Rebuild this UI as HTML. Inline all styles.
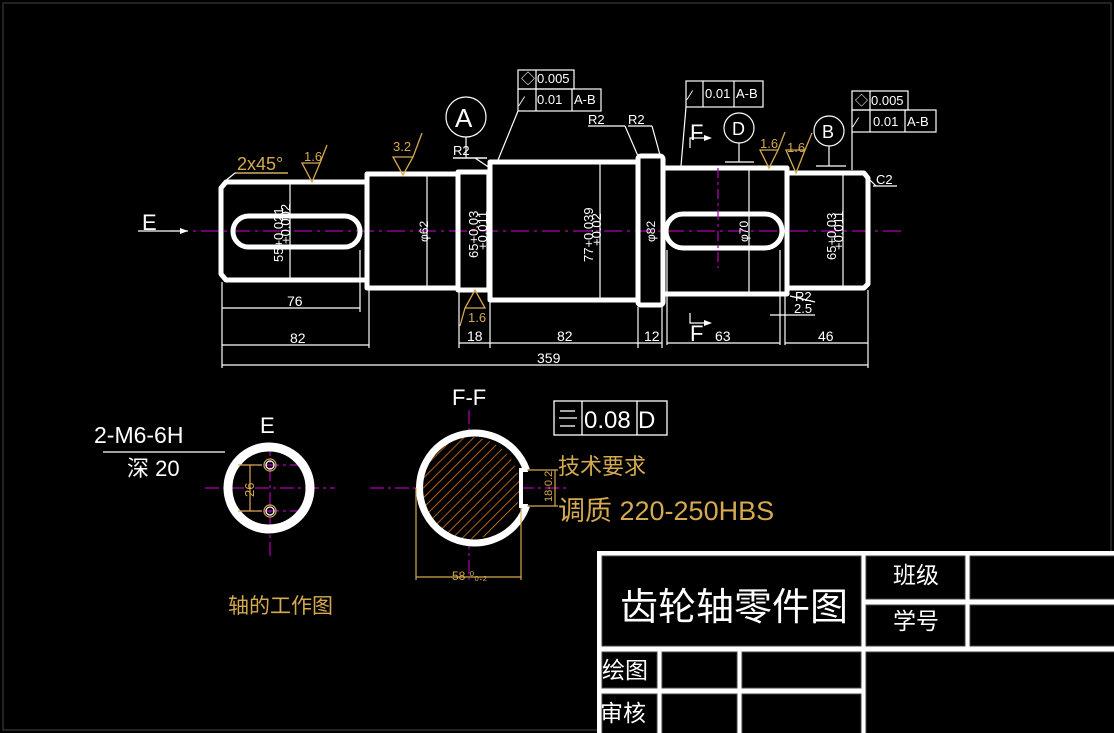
<!DOCTYPE html>
<html><head><meta charset="utf-8"><style>
html,body{margin:0;padding:0;background:#000;}
svg{display:block;}
text{font-family:"Liberation Sans","Noto Sans CJK SC",sans-serif;}
</style></head><body>
<svg width="1114" height="733" viewBox="0 0 1114 733" xmlns="http://www.w3.org/2000/svg">
<defs>
<pattern id="hatch" patternUnits="userSpaceOnUse" width="7" height="7" patternTransform="rotate(45)">
<rect width="7" height="7" fill="#000"/><line x1="0" y1="0" x2="0" y2="7" stroke="#e07a10" stroke-width="1.6"/>
</pattern>
<clipPath id="fclip"><circle cx="469" cy="488" r="51"/></clipPath>
</defs>
<rect x="0" y="0" width="1114" height="733" fill="#000"/>
<rect x="3" y="3" width="1108" height="727" fill="none" stroke="#444" stroke-width="1"/>

<!-- centerline -->
<line x1="170" y1="231" x2="905" y2="231" stroke="#b000b0" stroke-width="1.3" stroke-dasharray="18,5,3,5"/>

<!-- shaft body -->
<g fill="none" stroke="#fff" stroke-width="5" stroke-linejoin="round">
<path d="M226 182 L367 182 L367 280 L226 280 L221 274 L221 188 Z"/>
<rect x="367" y="174" width="91" height="114"/>
<rect x="458" y="172" width="32" height="118"/>
<rect x="490" y="162" width="148" height="138"/>
<rect x="638" y="156" width="25" height="149" rx="3"/>
<rect x="663" y="168" width="124" height="126"/>
<path d="M787 173 L864 173 L868 178 L868 284 L864 288 L787 288 Z"/>
<rect x="233" y="216" width="127" height="31" rx="15.5"/>
<rect x="666" y="214" width="116" height="34" rx="17"/>
</g>
<g stroke="#fff" stroke-width="1.2" fill="none">
<line x1="290" y1="184" x2="290" y2="278"/>
<line x1="427" y1="176" x2="427" y2="286"/>
<line x1="487" y1="174" x2="487" y2="288"/>
<line x1="600" y1="164" x2="600" y2="298"/>
<line x1="749" y1="170" x2="749" y2="292"/>
<line x1="843" y1="175" x2="843" y2="286"/>
<!-- extension lines -->
<line x1="222" y1="282" x2="222" y2="368"/>
<line x1="360" y1="250" x2="360" y2="312"/>
<line x1="369" y1="290" x2="369" y2="348"/>
<line x1="459" y1="292" x2="459" y2="348"/>
<line x1="490" y1="302" x2="490" y2="348"/>
<line x1="638" y1="307" x2="638" y2="348"/>
<line x1="662" y1="307" x2="662" y2="348"/>
<line x1="667" y1="250" x2="667" y2="345"/>
<line x1="780" y1="250" x2="780" y2="345"/>
<line x1="785" y1="296" x2="785" y2="345"/>
<line x1="868" y1="290" x2="868" y2="368"/>
<!-- dims -->
<line x1="222" y1="308" x2="360" y2="308"/>
<line x1="222" y1="345" x2="369" y2="345"/>
<line x1="222" y1="365" x2="868" y2="365"/>
<line x1="459" y1="343" x2="490" y2="343"/>
<line x1="490" y1="343" x2="638" y2="343"/>
<line x1="638" y1="343" x2="662" y2="343"/>
<line x1="667" y1="343" x2="780" y2="343"/>
<line x1="785" y1="343" x2="868" y2="343"/>
<line x1="770" y1="315" x2="815" y2="315"/>
<!-- E arrow -->
<line x1="138" y1="231" x2="188" y2="231"/>
<!-- A/D/B datum -->
<circle cx="466" cy="117" r="20"/>
<line x1="466" y1="137" x2="466" y2="158"/>
<line x1="453" y1="158" x2="487" y2="158"/>
<circle cx="739" cy="128" r="15"/>
<line x1="739" y1="143" x2="739" y2="162"/>
<line x1="725" y1="162" x2="754" y2="162"/>
<circle cx="829" cy="131" r="15"/>
<line x1="829" y1="146" x2="829" y2="166"/>
<line x1="816" y1="166" x2="846" y2="166"/>
<!-- tolerance frame 1 -->
<rect x="518" y="70" width="56" height="19"/>
<rect x="518" y="89" width="83" height="22"/>
<line x1="536" y1="70" x2="536" y2="111"/>
<line x1="572" y1="89" x2="572" y2="111"/>
<line x1="518" y1="111" x2="498" y2="160"/>
<!-- frame 2 -->
<rect x="686" y="81" width="77" height="26"/>
<line x1="703" y1="81" x2="703" y2="107"/>
<line x1="734" y1="81" x2="734" y2="107"/>
<line x1="686" y1="107" x2="681" y2="166"/>
<!-- frame 3 -->
<rect x="852" y="91" width="56" height="19"/>
<rect x="852" y="110" width="84" height="22"/>
<line x1="870" y1="91" x2="870" y2="132"/>
<line x1="905" y1="110" x2="905" y2="132"/>
<line x1="852" y1="132" x2="852" y2="170"/>
<!-- R2 leaders -->
<line x1="453" y1="158" x2="487" y2="158"/>
<line x1="475" y1="158" x2="490" y2="168"/>
<line x1="588" y1="126" x2="625" y2="126"/>
<line x1="625" y1="126" x2="638" y2="156"/>
<line x1="628" y1="126" x2="652" y2="126"/>
<line x1="652" y1="126" x2="660" y2="155"/>
<line x1="235" y1="173" x2="288" y2="173"/>
<line x1="235" y1="173" x2="224" y2="182"/>
<line x1="873" y1="186" x2="897" y2="186"/>
<line x1="868" y1="178" x2="876" y2="186"/>
<line x1="790" y1="296" x2="815" y2="302"/>
<!-- F section marks -->
<path d="M690 148 L690 138 L710 138"/>
<path d="M690 313 L690 323 L710 323"/>
</g>
<g fill="#fff">
<polygon points="188,231 180,228 180,234"/>
<polygon points="712,138 704,135 704,141"/>
<polygon points="712,323 704,320 704,326"/>
</g>
<!-- roughness symbols -->
<g stroke="#d4a94f" stroke-width="1.3" fill="none">
<path d="M302 163 L320 163 L312 182 Z M320 163 L327 145"/>
<path d="M393 157 L413 157 L403 175 Z M413 157 L422 133"/>
<path d="M465 308 L485 308 L475 290 Z M465 308 L460 326"/>
<path d="M760 150 L778 150 L769 168 Z M778 150 L785 132"/>
<path d="M786 150 L805 150 L796 173 Z M805 150 L812 133"/>
<line x1="236" y1="173" x2="288" y2="173"/>
</g>
<g fill="#d4a94f" font-size="14">
<text x="237" y="170" font-size="18">2x45°</text>
<text x="304" y="161" font-size="13">1.6</text>
<text x="393" y="151" font-size="13">3.2</text>
<text x="468" y="322" font-size="13">1.6</text>
<text x="760" y="148" font-size="13">1.6</text>
<text x="787" y="152" font-size="13">1.6</text>
</g>
<!-- white texts -->
<g fill="#fff" font-size="14">
<text x="142" y="230" font-size="22">E</text>
<text x="455" y="127" font-size="26">A</text>
<text x="732" y="135" font-size="18" font-family="Liberation Serif">D</text>
<text x="822" y="138" font-size="18" font-family="Liberation Serif">B</text>
<text x="537" y="83" font-size="13">0.005</text>
<text x="537" y="104" font-size="13">0.01</text>
<text x="574" y="104" font-size="13">A-B</text>
<text x="705" y="98" font-size="13">0.01</text>
<text x="736" y="98" font-size="13">A-B</text>
<text x="871" y="105" font-size="13">0.005</text>
<text x="873" y="126" font-size="13">0.01</text>
<text x="907" y="126" font-size="13">A-B</text>
<text x="521" y="84" font-size="14">◇</text>
<text x="521" y="106" font-size="14">⁄</text>
<text x="689" y="100" font-size="14">⁄</text>
<text x="855" y="105" font-size="13">◇</text>
<text x="855" y="127" font-size="14">⁄</text>
<text x="453" y="155" font-size="13">R2</text>
<text x="588" y="124" font-size="13">R2</text>
<text x="628" y="124" font-size="13">R2</text>
<text x="876" y="184" font-size="13">C2</text>
<text x="795" y="301" font-size="13">R2</text>
<text x="794" y="313" font-size="13">2.5</text>
<text x="690" y="140" font-size="22">F</text>
<text x="690" y="341" font-size="22">F</text>
<text x="287" y="306" font-size="14">76</text>
<text x="290" y="343" font-size="14">82</text>
<text x="537" y="363" font-size="14">359</text>
<text x="467" y="341" font-size="14">18</text>
<text x="557" y="341" font-size="14">82</text>
<text x="644" y="341" font-size="14">12</text>
<text x="715" y="341" font-size="14">63</text>
<text x="818" y="341" font-size="14">46</text>
<text transform="translate(283,262) rotate(-90)" font-size="13">55+0.021</text>
<text transform="translate(290,244) rotate(-90)" font-size="13">+0.002</text>
<text transform="translate(428,242) rotate(-90)" font-size="12">φ62</text>
<text transform="translate(478,258) rotate(-90)" font-size="13">65+0.03</text>
<text transform="translate(487,250) rotate(-90)" font-size="13">+0.011</text>
<text transform="translate(593,262) rotate(-90)" font-size="13">77+0.039</text>
<text transform="translate(601,246) rotate(-90)" font-size="13">+0.02</text>
<text transform="translate(655,242) rotate(-90)" font-size="12">φ82</text>
<text transform="translate(748,242) rotate(-90)" font-size="12">φ70</text>
<text transform="translate(836,260) rotate(-90)" font-size="13">65+0.03</text>
<text transform="translate(843,250) rotate(-90)" font-size="13">+0.011</text>
</g>
<line x1="718" y1="168" x2="718" y2="268" stroke="#b000b0" stroke-width="1.3" stroke-dasharray="10,4,3,4"/>

<!-- E section -->
<g stroke="#b000b0" stroke-width="1.2" stroke-dasharray="14,4,3,4">
<line x1="205" y1="488" x2="335" y2="488"/>
<line x1="270" y1="442" x2="270" y2="560"/>
<line x1="240" y1="465" x2="305" y2="465"/>
<line x1="240" y1="511" x2="305" y2="511"/>
<line x1="370" y1="488" x2="570" y2="488"/>
<line x1="469" y1="410" x2="469" y2="580"/>
</g>
<circle cx="269" cy="488" r="41" fill="none" stroke="#fff" stroke-width="9"/>
<g fill="none" stroke="#fff" stroke-width="1.3">
<circle cx="270" cy="465" r="4"/><circle cx="270" cy="511" r="4"/>
<line x1="103" y1="452" x2="225" y2="452"/>
</g>
<g stroke="#d4a94f" stroke-width="1.2" fill="none">
<circle cx="270" cy="465" r="6"/><circle cx="270" cy="511" r="6"/>
<line x1="250" y1="465" x2="250" y2="511"/>
<line x1="238" y1="465" x2="262" y2="465"/>
<line x1="238" y1="511" x2="262" y2="511"/>
</g>
<text transform="translate(254,497) rotate(-90)" fill="#d4a94f" font-size="13">26</text>
<g fill="#fff">
<text x="94" y="443" font-size="23">2-M6-6H</text>
<text x="127" y="476" font-size="22">深 20</text>
<text x="260" y="433" font-size="22">E</text>
<text x="452" y="405" font-size="22">F-F</text>
</g>

<!-- F-F section -->
<g clip-path="url(#fclip)">
<rect x="410" y="430" width="120" height="120" fill="url(#hatch)"/>
<rect x="519" y="470" width="20" height="34" fill="#000"/>
</g>
<path d="M519 470 A51 51 0 1 0 519 506 L519 506 L526 506 L526 470 Z" fill="none" stroke="#fff" stroke-width="0"/>
<path d="M526.5 470 A55 55 0 1 0 526.5 506" fill="none" stroke="#fff" stroke-width="7"/>
<path d="M528 470 L521 470 L521 506 L528 506" fill="none" stroke="#fff" stroke-width="4"/>
<g stroke="#d4a94f" stroke-width="1.2" fill="none">
<line x1="416" y1="488" x2="416" y2="580"/>
<line x1="521" y1="508" x2="521" y2="580"/>
<line x1="416" y1="577" x2="521" y2="577"/>
<line x1="527" y1="470" x2="558" y2="470"/>
<line x1="527" y1="506" x2="558" y2="506"/>
<line x1="555" y1="470" x2="555" y2="506"/>
</g>
<text x="452" y="580" fill="#d4a94f" font-size="12">58-⁰₀.₂</text>
<text transform="translate(552,502) rotate(-90)" fill="#d4a94f" font-size="11">18-0.2</text>

<!-- straightness frame -->
<g fill="none" stroke="#fff" stroke-width="1.3">
<rect x="554" y="401" width="113" height="34"/>
<line x1="582" y1="401" x2="582" y2="435"/>
<line x1="637" y1="401" x2="637" y2="435"/>
<line x1="560" y1="411" x2="575" y2="411"/>
<line x1="559" y1="418" x2="577" y2="418"/>
<line x1="560" y1="426" x2="575" y2="426"/>
</g>
<text x="584" y="428" fill="#fff" font-size="24">0.08</text>
<text x="638" y="428" fill="#fff" font-size="24">D</text>
<g fill="#d4a94f">
<text x="558" y="474" font-size="22">技术要求</text>
<text x="558" y="520" font-size="27">调质 220-250HBS</text>
<text x="228" y="613" font-size="21">轴的工作图</text>
</g>

<!-- title block -->
<rect x="597" y="551" width="520" height="185" fill="#fff"/>
<g fill="#000" stroke="#444" stroke-width="1">
<rect x="602" y="556" width="259" height="90"/>
<rect x="866" y="556" width="99" height="43"/>
<rect x="970" y="556" width="150" height="43"/>
<rect x="866" y="605" width="99" height="41"/>
<rect x="970" y="605" width="150" height="41"/>
<rect x="602" y="652" width="55" height="36"/>
<rect x="662" y="652" width="75" height="36"/>
<rect x="742" y="652" width="119" height="36"/>
<rect x="602" y="694" width="55" height="42"/>
<rect x="662" y="694" width="75" height="42"/>
<rect x="742" y="694" width="119" height="42"/>
<rect x="866" y="652" width="254" height="84"/>
</g>
<g fill="#fff">
<text x="620" y="620" font-size="38">齿轮轴零件图</text>
<text x="893" y="583" font-size="23">班级</text>
<text x="893" y="629" font-size="23">学号</text>
<text x="602" y="678" font-size="23">绘图</text>
<text x="600" y="721" font-size="23">审核</text>
</g>
</svg>
</body></html>
